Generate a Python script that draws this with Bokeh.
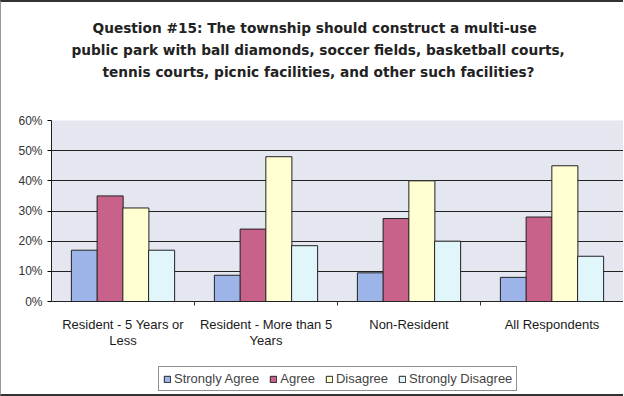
from bokeh.plotting import figure
from bokeh.layouts import column
from bokeh.models import (ColumnDataSource, Range1d, FixedTicker, NumeralTickFormatter,
                          Legend, LegendItem, Title)
from bokeh.transform import dodge
from bokeh.embed import file_html
from bokeh.resources import INLINE

categories = ["Resident - 5 Years or\nLess", "Resident - More than 5\nYears",
              "Non-Resident", "All Respondents"]
series_names = ["Strongly Agree", "Agree", "Disagree", "Strongly Disagree"]
strongly_agree = [0.17, 0.087, 0.095, 0.08]
agree = [0.35, 0.24, 0.275, 0.28]
disagree = [0.31, 0.48, 0.40, 0.45]
strongly_disagree = [0.17, 0.185, 0.20, 0.15]
y_ticks = [0, 0.1, 0.2, 0.3, 0.4, 0.5, 0.6]

colors = ["#9db4e8", "#c8628a", "#ffffd2", "#e0f6fb"]
offsets = [-0.27, -0.09, 0.09, 0.27]

centers = [i + 0.5 for i in range(len(categories))]
src = ColumnDataSource(dict(x=centers, sa=strongly_agree, a=agree, d=disagree, sd=strongly_disagree))

p = figure(width=622, height=356, output_backend="svg", toolbar_location=None,
           x_range=Range1d(0, len(categories)), y_range=Range1d(0, 0.6),
           min_border_left=50, min_border_right=0, min_border_top=118, min_border_bottom=57)
p.background_fill_color = "#e4e6f0"
p.border_fill_color = "white"
p.outline_line_color = None

title_lines = ["Question #15:  The township should construct a multi-use",
               "public park with ball diamonds, soccer fields, basketball courts,",
               "tennis courts, picnic facilities, and other such facilities?"]
title_offsets = [41, 20, 51]
# spacer closest to the frame
p.add_layout(Title(text=" ", text_font_size="13.5px", standoff=22), "above")
for line, off in zip(reversed(title_lines), reversed(title_offsets)):
    t = Title(text=line, align="left", offset=off, text_font="DejaVu Sans",
              text_font_size="13.7px", text_font_style="bold", text_color="#222222",
              standoff=4)
    p.add_layout(t, "above")

renderers = []
for field, off, col in zip(["sa", "a", "d", "sd"], offsets, colors):
    r = p.vbar(x=dodge("x", off), top=field, width=0.182, source=src,
               fill_color=col, line_color="#222222", line_width=1)
    renderers.append(r)

p.xaxis.ticker = FixedTicker(ticks=centers, minor_ticks=[1, 2, 3])
p.xaxis.major_label_overrides = {c: lab for c, lab in zip(centers, categories)}
p.xaxis.major_tick_line_color = None
p.xaxis.minor_tick_out = 4
p.xaxis.minor_tick_in = 0
p.xaxis.minor_tick_line_color = "#333333"
p.xaxis.axis_line_color = "#222222"
p.xaxis.major_label_text_font = "Liberation Sans"
p.xaxis.major_label_text_font_size = "13px"
p.xaxis.major_label_text_color = "#1a1a1a"
p.xaxis.major_label_text_line_height = 1.1
p.xaxis.major_label_standoff = 9

p.yaxis.ticker = FixedTicker(ticks=y_ticks)
p.yaxis.formatter = NumeralTickFormatter(format="0%")
p.yaxis.minor_tick_line_color = None
p.yaxis.major_tick_out = 4
p.yaxis.major_tick_in = 0
p.yaxis.axis_line_color = "#222222"
p.yaxis.major_label_text_font = "Liberation Sans"
p.yaxis.major_label_text_font_size = "12px"
p.yaxis.major_label_text_color = "#333333"

p.xgrid.grid_line_color = None
p.ygrid.ticker = FixedTicker(ticks=y_ticks)
p.ygrid.grid_line_color = "#222222"
p.ygrid.grid_line_width = 1.2

# legend strip below the chart (its bars lie below the visible y range)
lg = figure(width=622, height=36, output_backend="svg", toolbar_location=None,
            x_range=Range1d(0, len(categories)), y_range=Range1d(10, 11),
            x_axis_location=None, y_axis_location=None, min_border=0)
lg.grid.visible = False
lg.outline_line_color = None
lg.background_fill_color = "white"
dummy = []
for field, off, col in zip(["sa", "a", "d", "sd"], offsets, colors):
    dummy.append(lg.vbar(x=dodge("x", off), top=field, width=0.182, source=src,
                         fill_color=col, line_color="#222222"))
legend = Legend(items=[LegendItem(label=n, renderers=[r]) for n, r in zip(series_names, dummy)],
                orientation="horizontal", location=(107, 3),
                glyph_width=8, glyph_height=8, label_text_font="Liberation Sans",
                label_text_font_size="13px", label_standoff=3, spacing=10,
                padding=4, margin=0, border_line_color="#222222",
                label_height=13, background_fill_color="white")
lg.add_layout(legend, "center")

layout = column(p, lg, spacing=0,
                styles={"border-top": "2px solid #333333", "border-left": "1px solid #999999",
                        "border-bottom": "2px solid #333333"})
open("out.html", "w").write(file_html(layout, INLINE))
